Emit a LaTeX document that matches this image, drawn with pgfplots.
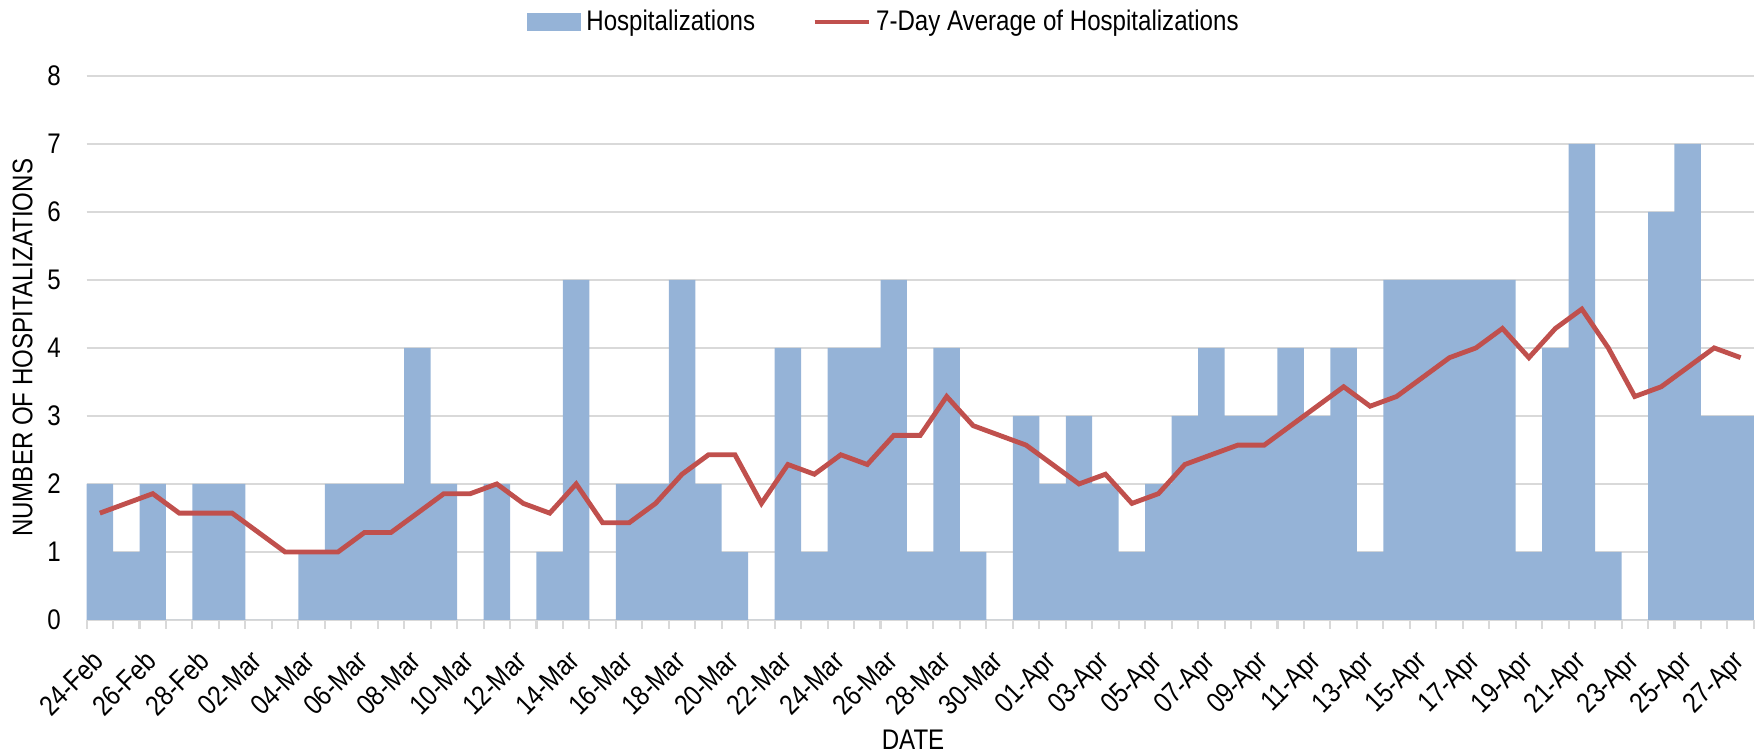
\documentclass[border=0pt]{standalone}
\usepackage{fontspec}
\setmainfont{Liberation Sans}[FakeStretch=0.85]
\usepackage{pgfplots}
\pgfplotsset{compat=1.18}
\usepackage{pgfplotstable}
\definecolor{barblue}{RGB}{149,179,215}
\definecolor{avgred}{RGB}{192,80,77}
\definecolor{gridgray}{RGB}{217,217,217}

% day index (0 = 24-Feb), daily hospitalizations, 7-day average
\pgfplotstableread{
x hosp avg
0 2 1.571
1 1 1.714
2 2 1.857
3 0 1.571
4 2 1.571
5 2 1.571
6 0 1.286
7 0 1.000
8 1 1.000
9 2 1.000
10 2 1.286
11 2 1.286
12 4 1.571
13 2 1.857
14 0 1.857
15 2 2.000
16 0 1.714
17 1 1.571
18 5 2.000
19 0 1.429
20 2 1.429
21 2 1.714
22 5 2.143
23 2 2.429
24 1 2.429
25 0 1.714
26 4 2.286
27 1 2.143
28 4 2.429
29 4 2.286
30 5 2.714
31 1 2.714
32 4 3.286
33 1 2.857
34 0 2.714
35 3 2.571
36 2 2.286
37 3 2.000
38 2 2.143
39 1 1.714
40 2 1.857
41 3 2.286
42 4 2.429
43 3 2.571
44 3 2.571
45 4 2.857
46 3 3.143
47 4 3.429
48 1 3.143
49 5 3.286
50 5 3.571
51 5 3.857
52 5 4.000
53 5 4.286
54 1 3.857
55 4 4.286
56 7 4.571
57 1 4.000
58 0 3.286
59 6 3.429
60 7 3.714
61 3 4.000
62 3 3.857
}\hospdata

\begin{document}
\fontsize{8.2}{10}\selectfont
\begin{tikzpicture}
\begin{axis}[at={(0,0)}, anchor=south west, scale only axis, set layers,
  width=482.3pt, height=157.4pt,
  xmin=-0.5, xmax=62.5, ymin=0, ymax=8, ytick={0,...,8},
  xtick={0,2,...,62},
  xticklabels={24-Feb,26-Feb,28-Feb,02-Mar,04-Mar,06-Mar,08-Mar,10-Mar,12-Mar,14-Mar,16-Mar,18-Mar,20-Mar,22-Mar,24-Mar,26-Mar,28-Mar,30-Mar,01-Apr,03-Apr,05-Apr,07-Apr,09-Apr,11-Apr,13-Apr,15-Apr,17-Apr,19-Apr,21-Apr,23-Apr,25-Apr,27-Apr},
  xticklabel style={yshift=-8.1pt, xshift=-2.6pt, rotate=45, anchor=north east, inner sep=0pt},
  yticklabel style={anchor=east, inner sep=0pt, xshift=-7.3pt},
  /pgf/number format/assume math mode=true,
  major tick length=0pt,
  extra x ticks={-0.5,0.5,...,62.5}, extra x tick labels={},
  extra x tick style={grid=none, major tick length=2.5pt, tick align=outside, tick style={gridgray, line width=0.6pt}},
  axis x line*=bottom, axis y line*=left,
  x axis line style={gridgray, line width=0.8pt, -},
  y axis line style={draw=none},
  ymajorgrids, grid style={gridgray, line width=0.6pt},
  xlabel={DATE}, ylabel={NUMBER OF HOSPITALIZATIONS},
  every axis x label/.style={at={(axis description cs:0.4957,0)}, anchor=center, yshift=-34.7pt},
  every axis y label/.style={at={(axis description cs:-0.0384,0.5)}, anchor=center, rotate=90},
  legend columns=2,
  legend style={at={(0.4792,1.099)}, anchor=center, draw=none, fill=none, inner sep=0pt,
    /tikz/every even column/.append style={column sep=15pt},
    nodes={inner sep=1.5pt}},
  legend cell align=left,
]
\addplot[ybar, bar width=1, bar shift=0pt, fill=barblue, draw=none,
  legend image code/.code={\fill[barblue] (0pt,-2.5pt) rectangle (15.6pt,2.5pt);}]
  table[x=x, y=hosp] {\hospdata};
\addlegendentry{Hospitalizations}
\addplot[avgred, line width=1.4pt, mark=none,
  legend image code/.code={\draw[avgred, line width=1.4pt] (0pt,0pt) -- (15.6pt,0pt);}]
  table[x=x, y=avg] {\hospdata};
\addlegendentry{7-Day Average of Hospitalizations}
\end{axis}
\pgfresetboundingbox
\path[use as bounding box] (-25.05pt,-39.05pt) rectangle (484.95pt,179.35pt);
\end{tikzpicture}
\end{document}
